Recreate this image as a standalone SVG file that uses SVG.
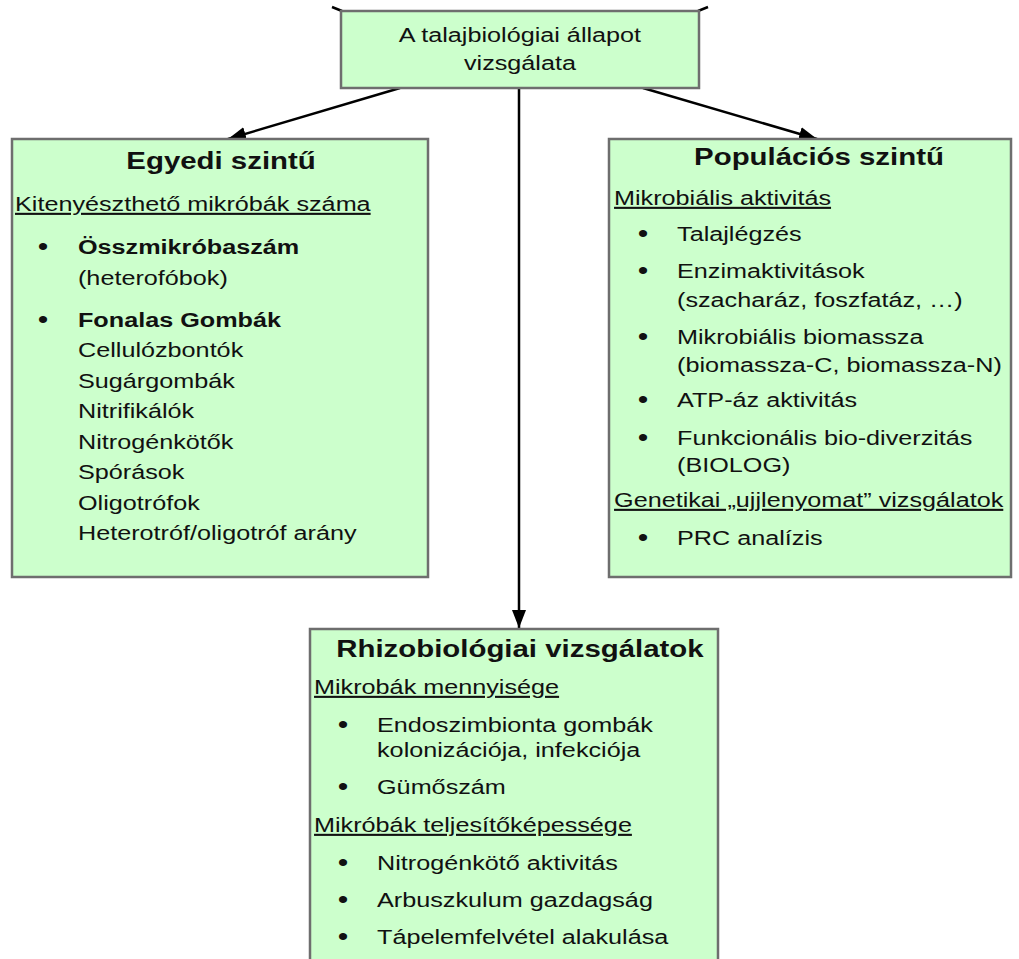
<svg xmlns="http://www.w3.org/2000/svg" width="1019" height="959" viewBox="0 0 1019 959">
<defs>
<marker id="ah" markerUnits="userSpaceOnUse" markerWidth="20" markerHeight="16" refX="18" refY="7" orient="auto">
<path d="M0,0 L18,7 L0,14 Z" fill="#000"/>
</marker>
<style>
.box{fill:#ccffcc;stroke:#6e6e6e;stroke-width:2.5}
text{font-family:"Liberation Sans",Arial,sans-serif;fill:#111}
.t{font-size:21px}
.b{font-size:24.5px;font-weight:bold;text-anchor:middle}
.bb{font-size:21px;font-weight:bold}
.u{font-size:21px;text-decoration:underline}
.d{font-size:25px;text-anchor:middle}
.c{font-size:21px;text-anchor:middle}
.con{stroke:#000;stroke-width:2.5;fill:none}
</style>
</defs>
<rect width="1019" height="959" fill="#fff"/>
<g id="connectors">
<line class="con" x1="400" y1="88" x2="228" y2="139" marker-end="url(#ah)"/>
<line class="con" x1="643" y1="88" x2="817" y2="139" marker-end="url(#ah)"/>
<line class="con" x1="519" y1="88" x2="519" y2="628" marker-end="url(#ah)"/>
<line class="con" x1="332" y1="7" x2="342" y2="11"/>
<line class="con" x1="698" y1="11" x2="708" y2="7"/>
</g>
<g id="top">
<rect class="box" x="341" y="11" width="358" height="77"/>
<g transform="scale(1.2 1)">
<text class="c" x="433.3" y="42">A talajbiológiai állapot</text>
<text class="c" x="433.3" y="70">vizsgálata</text>
</g>
</g>
<g id="egyedi">
<rect class="box" x="12" y="139" width="416" height="438"/>
<g transform="scale(1.2 1)">
<text class="b" x="184.2" y="169">Egyedi szintű</text>
<text class="u" x="12.5" y="211">Kitenyészthető mikróbák száma</text>
<text class="d" x="35.8" y="255">•</text>
<text class="bb" x="65" y="254">Összmikróbaszám</text>
<text class="t" x="65" y="285">(heterofóbok)</text>
<text class="d" x="35.8" y="328">•</text>
<text class="bb" x="65" y="327">Fonalas Gombák</text>
<text class="t" x="65" y="357.5">Cellulózbontók</text>
<text class="t" x="65" y="388">Sugárgombák</text>
<text class="t" x="65" y="418.5">Nitrifikálók</text>
<text class="t" x="65" y="449">Nitrogénkötők</text>
<text class="t" x="65" y="479.5">Spórások</text>
<text class="t" x="65" y="510">Oligotrófok</text>
<text class="t" x="65" y="540.5">Heterotróf/oligotróf arány</text>
</g>
</g>
<g id="populacios">
<rect class="box" x="609" y="139" width="402" height="438"/>
<g transform="scale(1.2 1)">
<text class="b" x="682.5" y="165">Populációs szintű</text>
<text class="u" x="511.7" y="205">Mikrobiális aktivitás</text>
<text class="d" x="535.8" y="242">•</text>
<text class="t" x="564.2" y="241">Talajlégzés</text>
<text class="d" x="535.8" y="279">•</text>
<text class="t" x="564.2" y="278">Enzimaktivitások</text>
<text class="t" x="564.2" y="307">(szacharáz, foszfatáz, …)</text>
<text class="d" x="535.8" y="345">•</text>
<text class="t" x="564.2" y="344">Mikrobiális biomassza</text>
<text class="t" x="564.2" y="372">(biomassza-C, biomassza-N)</text>
<text class="d" x="535.8" y="408">•</text>
<text class="t" x="564.2" y="407">ATP-áz aktivitás</text>
<text class="d" x="535.8" y="446">•</text>
<text class="t" x="564.2" y="445">Funkcionális bio-diverzitás</text>
<text class="t" x="564.2" y="472">(BIOLOG)</text>
<text class="u" x="511.7" y="507">Genetikai „ujjlenyomat” vizsgálatok</text>
<text class="d" x="535.8" y="546">•</text>
<text class="t" x="564.2" y="545">PRC analízis</text>
</g>
</g>
<g id="rhizo">
<rect class="box" x="310" y="629" width="408" height="340"/>
<g transform="scale(1.2 1)">
<text class="b" x="433.3" y="657">Rhizobiológiai vizsgálatok</text>
<text class="u" x="261.7" y="694">Mikrobák mennyisége</text>
<text class="d" x="285.8" y="733">•</text>
<text class="t" x="314.2" y="732">Endoszimbionta gombák</text>
<text class="t" x="314.2" y="757">kolonizációja, infekciója</text>
<text class="d" x="285.8" y="795">•</text>
<text class="t" x="314.2" y="794">Gümőszám</text>
<text class="u" x="261.7" y="832">Mikróbák teljesítőképessége</text>
<text class="d" x="285.8" y="871">•</text>
<text class="t" x="314.2" y="870">Nitrogénkötő aktivitás</text>
<text class="d" x="285.8" y="908">•</text>
<text class="t" x="314.2" y="907">Arbuszkulum gazdagság</text>
<text class="d" x="285.8" y="945">•</text>
<text class="t" x="314.2" y="944">Tápelemfelvétel alakulása</text>
</g>
</g>
</svg>
